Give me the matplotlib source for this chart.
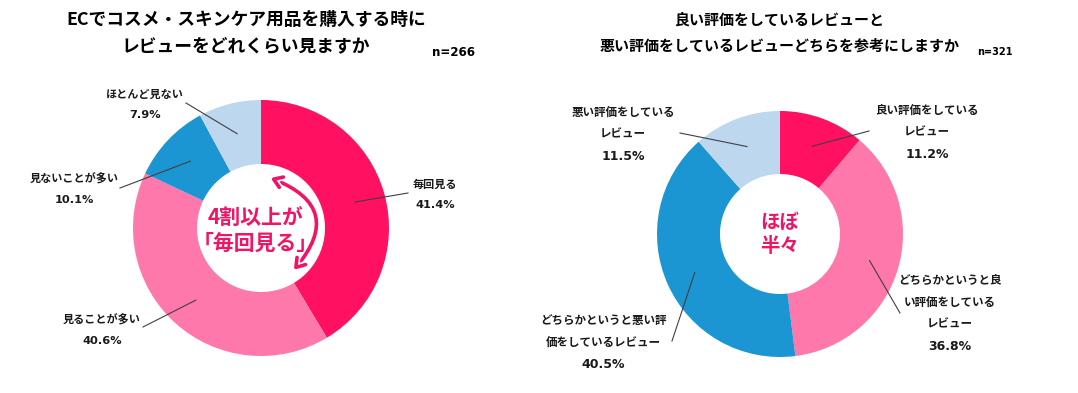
import matplotlib
matplotlib.use("Agg")
import matplotlib.pyplot as plt
import numpy as np
from matplotlib.patches import FancyArrowPatch
import matplotlib.patheffects as pe

plt.rcParams['font.family'] = ['Noto Sans CJK JP', 'DejaVu Sans']
LATIN = ['DejaVu Sans', 'Noto Sans CJK JP']

# ---- data ----
left_title = ['ECでコスメ・スキンケア用品を購入する時に', 'レビューをどれくらい見ますか']
left_n = 'n=266'
left_labels = [['毎回見る'], ['見ることが多い'], ['見ないことが多い'], ['ほとんど見ない']]
left_values = [41.4, 40.6, 10.1, 7.9]
left_center_text = ['4割以上が', '「毎回見る」']

right_title = ['良い評価をしているレビューと', '悪い評価をしているレビューどちらを参考にしますか']
right_n = 'n=321'
right_labels = [['良い評価をしている', 'レビュー'],
                ['どちらかというと良', 'い評価をしている', 'レビュー'],
                ['どちらかというと悪い評', '価をしているレビュー'],
                ['悪い評価をしている', 'レビュー']]
right_values = [11.2, 36.8, 40.5, 11.5]
right_center_text = ['ほぼ', '半々']

colors = ['#FF1060', '#FF78AB', '#1C95D3', '#BDD7EE']
accent = '#F01466'

W, H = 1078, 393
fig = plt.figure(figsize=(W / 100, H / 100), dpi=100)
ax = fig.add_axes([0, 0, 1, 1])


def Y(py):
    return H - py


def donut(values, labels, cx, cy, R, hole, label_pos, line_ends, fs, pfs, lsp):
    wedges, _ = ax.pie(values, colors=colors, startangle=90, counterclock=False,
                       center=(cx, Y(cy)), radius=R,
                       wedgeprops=dict(width=R - hole, linewidth=0))
    for w, lab, v, (tx, ty), (ex, ey) in zip(wedges, labels, values, label_pos, line_ends):
        mid = np.deg2rad((w.theta1 + w.theta2) / 2)
        px = cx + 0.76 * R * np.cos(mid)
        py = Y(cy) + 0.76 * R * np.sin(mid)
        ax.plot([px, ex], [py, Y(ey)], color='#404040', lw=0.8, zorder=3)
        for i, s in enumerate(lab):
            ax.text(tx, Y(ty + i * lsp), s, ha='center', va='center',
                    fontsize=fs, fontweight='bold', color='#1a1a1a')
        ax.text(tx, Y(ty + len(lab) * lsp), f'{v:.1f}%', ha='center', va='center',
                fontsize=pfs, fontweight='bold', color='#1a1a1a', family=LATIN)
    return wedges


# left donut
donut(left_values, left_labels, 261, 228, 128, 64,
      label_pos=[(435, 184), (102, 320), (74, 179), (145, 94)],
      line_ends=[(408, 193), (143, 327), (120, 188), (186, 103)],
      fs=8.0, pfs=8.2, lsp=21)

# right donut
donut(right_values, right_labels, 780, 234, 123, 60,
      label_pos=[(927, 110), (950, 280), (603, 320), (623, 112)],
      line_ends=[(869, 131), (900, 313), (672, 341), (680, 133)],
      fs=8.3, pfs=9.0, lsp=22)

# titles
for i, s in enumerate(left_title):
    ax.text(246, Y(20 + 26 * i), s, ha='center', va='center', fontsize=12.8,
            fontweight='bold', color='black')
ax.text(432, Y(52), left_n, ha='left', va='center', fontsize=8.6,
        fontweight='bold', family=LATIN)
for i, s in enumerate(right_title):
    ax.text(779, Y(20 + 26 * i), s, ha='center', va='center', fontsize=10.8,
            fontweight='bold', color='black')
ax.text(977, Y(52), right_n, ha='left', va='center', fontsize=7.1,
        fontweight='bold', family=LATIN)

# center texts
for i, s in enumerate(left_center_text):
    ax.text(255, Y(218 + 25 * i), s, ha='center', va='center', fontsize=15,
            fontweight='bold', color=accent)
for i, s in enumerate(right_center_text):
    ax.text(780, Y(222 + 25 * i), s, ha='center', va='center', fontsize=14,
            fontweight='bold', color=accent)

# curved double arrow in left hole
arr = FancyArrowPatch((268, Y(177)), (292, Y(272)),
                      connectionstyle='arc3,rad=-0.72',
                      arrowstyle='<->,head_length=6,head_width=4',
                      color=accent, lw=2.6, zorder=5,
                      path_effects=[pe.Stroke(linewidth=5, foreground='white'), pe.Normal()])
ax.add_patch(arr)

ax.set_xlim(0, W)
ax.set_ylim(0, H)
ax.set_aspect('auto')
ax.axis('off')

fig.savefig('out.png', dpi=100, facecolor='white')
